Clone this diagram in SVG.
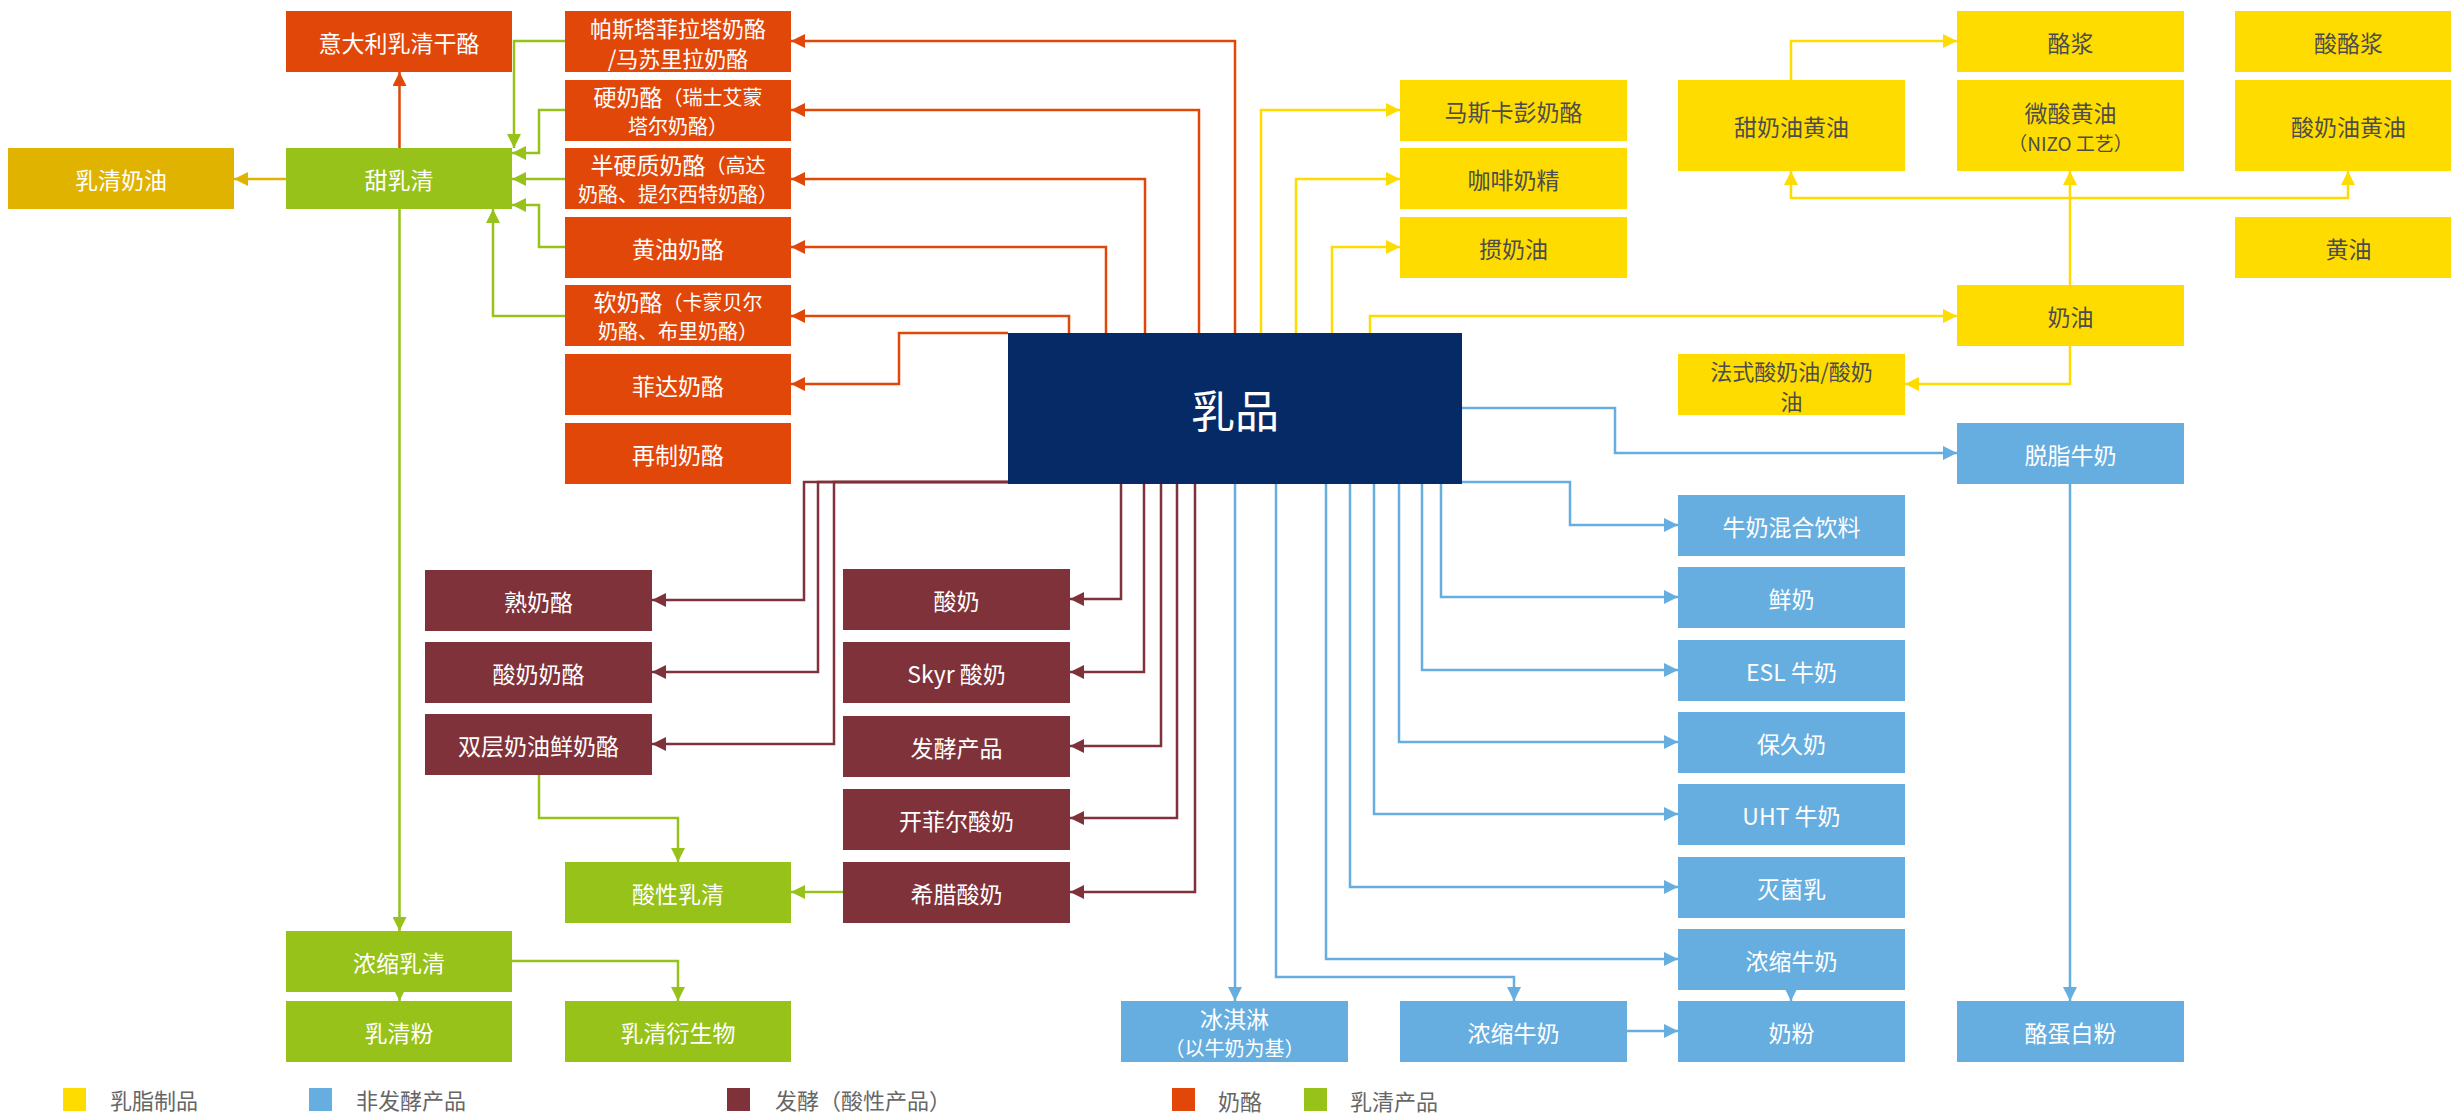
<svg xmlns="http://www.w3.org/2000/svg" width="2451" height="1115" viewBox="0 0 2451 1115">
<style>
text{font-family:"Noto Sans CJK SC","Liberation Sans",sans-serif;font-size:23px;text-anchor:middle;dominant-baseline:central}
.w{fill:#ffffff}
.d{fill:#4d4d4d}
.s{font-size:20px}
.m{font-size:22px}
.xs{font-size:19px}
.red{fill:#E2470A}.grn{fill:#97C21A}.mar{fill:#7F323A}.yel{fill:#FFDC00}.blu{fill:#67AEE0}.gld{fill:#E0B300}.nav{fill:#062A66}
.c{fill:none;stroke-width:2.5}
.cr{stroke:#E2470A}.cg{stroke:#97C21A}.cm{stroke:#7F323A}.cy{stroke:#FFDC00}.cb{stroke:#67AEE0}.co{stroke:#E0B300}
.lg{font-size:22px;fill:#666666;text-anchor:start}
</style>
<defs>
<marker id="ar" viewBox="0 0 14 14" refX="14" refY="7" markerWidth="14" markerHeight="14" markerUnits="userSpaceOnUse" orient="auto"><path d="M0,0 L14,7 L0,14 z" fill="#E2470A"/></marker>
<marker id="ag" viewBox="0 0 14 14" refX="14" refY="7" markerWidth="14" markerHeight="14" markerUnits="userSpaceOnUse" orient="auto"><path d="M0,0 L14,7 L0,14 z" fill="#97C21A"/></marker>
<marker id="am" viewBox="0 0 14 14" refX="14" refY="7" markerWidth="14" markerHeight="14" markerUnits="userSpaceOnUse" orient="auto"><path d="M0,0 L14,7 L0,14 z" fill="#7F323A"/></marker>
<marker id="ay" viewBox="0 0 14 14" refX="14" refY="7" markerWidth="14" markerHeight="14" markerUnits="userSpaceOnUse" orient="auto"><path d="M0,0 L14,7 L0,14 z" fill="#FFDC00"/></marker>
<marker id="ab" viewBox="0 0 14 14" refX="14" refY="7" markerWidth="14" markerHeight="14" markerUnits="userSpaceOnUse" orient="auto"><path d="M0,0 L14,7 L0,14 z" fill="#67AEE0"/></marker>
<marker id="ao" viewBox="0 0 14 14" refX="14" refY="7" markerWidth="14" markerHeight="14" markerUnits="userSpaceOnUse" orient="auto"><path d="M0,0 L14,7 L0,14 z" fill="#E0B300"/></marker>
</defs>
<rect width="2451" height="1115" fill="#ffffff"/>

<g id="connectors">
<!-- red -->
<path class="c cr" d="M399.5 148 V72" marker-end="url(#ar)"/>
<path class="c cr" d="M1235 333 V41 H791" marker-end="url(#ar)"/>
<path class="c cr" d="M1199 333 V110 H791" marker-end="url(#ar)"/>
<path class="c cr" d="M1145 333 V179 H791" marker-end="url(#ar)"/>
<path class="c cr" d="M1106 333 V247 H791" marker-end="url(#ar)"/>
<path class="c cr" d="M1069 333 V316 H791" marker-end="url(#ar)"/>
<path class="c cr" d="M1008 333 H899 V384 H791" marker-end="url(#ar)"/>
<!-- green -->
<path class="c cg" d="M565 41 H514 V148" marker-end="url(#ag)"/>
<path class="c cg" d="M565 110 H539 V153 H512" marker-end="url(#ag)"/>
<path class="c cg" d="M565 179 H512" marker-end="url(#ag)"/>
<path class="c cg" d="M565 247 H539 V205 H512" marker-end="url(#ag)"/>
<path class="c cg" d="M565 316 H493 V209" marker-end="url(#ag)"/>
<path class="c cg" d="M399.5 209 V931" marker-end="url(#ag)"/>
<path class="c cg" d="M539 775 V818 H678 V862" marker-end="url(#ag)"/>
<path class="c cg" d="M843 892 H791" marker-end="url(#ag)"/>
<path class="c cg" d="M399.5 988 V1001" marker-end="url(#ag)"/>
<path class="c cg" d="M512 961 H678 V1001" marker-end="url(#ag)"/>
<!-- gold -->
<path class="c co" d="M286 179 H234" marker-end="url(#ao)"/>
<!-- maroon -->
<path class="c cm" d="M1042 482 H804 V600 H652" marker-end="url(#am)"/>
<path class="c cm" d="M1042 482 H818 V672 H652" marker-end="url(#am)"/>
<path class="c cm" d="M1042 482 H834 V744 H652" marker-end="url(#am)"/>
<path class="c cm" d="M1121 484 V599 H1070" marker-end="url(#am)"/>
<path class="c cm" d="M1144 484 V672 H1070" marker-end="url(#am)"/>
<path class="c cm" d="M1161 484 V746 H1070" marker-end="url(#am)"/>
<path class="c cm" d="M1177 484 V818 H1070" marker-end="url(#am)"/>
<path class="c cm" d="M1195 484 V892 H1070" marker-end="url(#am)"/>
<!-- yellow -->
<path class="c cy" d="M1261 333 V110 H1400" marker-end="url(#ay)"/>
<path class="c cy" d="M1296 333 V179 H1400" marker-end="url(#ay)"/>
<path class="c cy" d="M1332 333 V247 H1400" marker-end="url(#ay)"/>
<path class="c cy" d="M1370 333 V316 H1957" marker-end="url(#ay)"/>
<path class="c cy" d="M1791 80 V41 H1957" marker-end="url(#ay)"/>
<path class="c cy" d="M2070 285 V198 H1791 V171" marker-end="url(#ay)"/>
<path class="c cy" d="M2070 198 H2348 V171" marker-end="url(#ay)"/>
<path class="c cy" d="M2070 198 V171" marker-end="url(#ay)"/>
<path class="c cy" d="M2070 346 V384 H1905" marker-end="url(#ay)"/>
<!-- blue -->
<path class="c cb" d="M1462 408 H1615 V453 H1957" marker-end="url(#ab)"/>
<path class="c cb" d="M1462 482 H1570 V525 H1678" marker-end="url(#ab)"/>
<path class="c cb" d="M1441 484 V597 H1678" marker-end="url(#ab)"/>
<path class="c cb" d="M1422 484 V670 H1678" marker-end="url(#ab)"/>
<path class="c cb" d="M1399 484 V742 H1678" marker-end="url(#ab)"/>
<path class="c cb" d="M1374 484 V814 H1678" marker-end="url(#ab)"/>
<path class="c cb" d="M1350 484 V887 H1678" marker-end="url(#ab)"/>
<path class="c cb" d="M1326 484 V959 H1678" marker-end="url(#ab)"/>
<path class="c cb" d="M1276 484 V977 H1514 V1001" marker-end="url(#ab)"/>
<path class="c cb" d="M1235 484 V1001" marker-end="url(#ab)"/>
<path class="c cb" d="M1627 1031 H1678" marker-end="url(#ab)"/>
<path class="c cb" d="M1791 988 V1001" marker-end="url(#ab)"/>
<path class="c cb" d="M2070 484 V1001" marker-end="url(#ab)"/>
</g>

<!-- center -->
<g id="n-dairy"><rect class="nav" x="1008" y="333" width="454" height="151"/><text class="w" x="1235" y="409" style="font-size:44px">乳品</text></g>

<!-- cheese -->
<g id="n-ricotta"><rect class="red" x="286" y="11" width="226" height="61"/><text class="w" x="399" y="41.5">意大利乳清干酪</text></g>
<g id="n-pasta"><rect class="red" x="565" y="11" width="226" height="61"/><text class="w m" x="678" y="26.5">帕斯塔菲拉塔奶酪</text><text class="w m" x="678" y="56.5">/马苏里拉奶酪</text></g>
<g id="n-hard"><rect class="red" x="565" y="80" width="226" height="61"/><text class="w" x="678" y="96">硬奶酪<tspan class="s">（瑞士艾蒙</tspan></text><text class="w s" x="678" y="125">塔尔奶酪）</text></g>
<g id="n-semihard"><rect class="red" x="565" y="148" width="226" height="61"/><text class="w" x="678" y="164">半硬质奶酪<tspan class="s">（高达</tspan></text><text class="w s" x="678" y="193">奶酪、提尔西特奶酪）</text></g>
<g id="n-butterkase"><rect class="red" x="565" y="217" width="226" height="61"/><text class="w" x="678" y="247.5">黄油奶酪</text></g>
<g id="n-soft"><rect class="red" x="565" y="285" width="226" height="61"/><text class="w" x="678" y="301">软奶酪<tspan class="s">（卡蒙贝尔</tspan></text><text class="w s" x="678" y="330">奶酪、布里奶酪）</text></g>
<g id="n-feta"><rect class="red" x="565" y="354" width="226" height="61"/><text class="w" x="678" y="384.5">菲达奶酪</text></g>
<g id="n-processed"><rect class="red" x="565" y="423" width="226" height="61"/><text class="w" x="678" y="453.5">再制奶酪</text></g>

<!-- whey -->
<g id="n-whey-cream"><rect class="gld" x="8" y="148" width="226" height="61"/><text class="w" x="121" y="178.5">乳清奶油</text></g>
<g id="n-sweet-whey"><rect class="grn" x="286" y="148" width="226" height="61"/><text class="w" x="399" y="178.5">甜乳清</text></g>
<g id="n-acid-whey"><rect class="grn" x="565" y="862" width="226" height="61"/><text class="w" x="678" y="892.5">酸性乳清</text></g>
<g id="n-whey-conc"><rect class="grn" x="286" y="931" width="226" height="61"/><text class="w" x="399" y="961.5">浓缩乳清</text></g>
<g id="n-whey-powder"><rect class="grn" x="286" y="1001" width="226" height="61"/><text class="w" x="399" y="1031.5">乳清粉</text></g>
<g id="n-whey-deriv"><rect class="grn" x="565" y="1001" width="226" height="61"/><text class="w" x="678" y="1031.5">乳清衍生物</text></g>

<!-- fermented -->
<g id="n-ripened"><rect class="mar" x="425" y="570" width="227" height="61"/><text class="w" x="538.5" y="600.5">熟奶酪</text></g>
<g id="n-quark"><rect class="mar" x="425" y="642" width="227" height="61"/><text class="w" x="538.5" y="672.5">酸奶奶酪</text></g>
<g id="n-double"><rect class="mar" x="425" y="714" width="227" height="61"/><text class="w" x="538.5" y="744.5">双层奶油鲜奶酪</text></g>
<g id="n-yogurt"><rect class="mar" x="843" y="569" width="227" height="61"/><text class="w" x="956.5" y="599.5">酸奶</text></g>
<g id="n-skyr"><rect class="mar" x="843" y="642" width="227" height="61"/><text class="w" x="956.5" y="672.5">Skyr 酸奶</text></g>
<g id="n-ferm"><rect class="mar" x="843" y="716" width="227" height="61"/><text class="w" x="956.5" y="746.5">发酵产品</text></g>
<g id="n-kefir"><rect class="mar" x="843" y="789" width="227" height="61"/><text class="w" x="956.5" y="819.5">开菲尔酸奶</text></g>
<g id="n-greek"><rect class="mar" x="843" y="862" width="227" height="61"/><text class="w" x="956.5" y="892.5">希腊酸奶</text></g>

<!-- fat products -->
<g id="n-mascarpone"><rect class="yel" x="1400" y="80" width="227" height="61"/><text class="d" x="1513.5" y="110.5">马斯卡彭奶酪</text></g>
<g id="n-creamer"><rect class="yel" x="1400" y="148" width="227" height="61"/><text class="d" x="1513.5" y="178.5">咖啡奶精</text></g>
<g id="n-whipped"><rect class="yel" x="1400" y="217" width="227" height="61"/><text class="d" x="1513.5" y="247.5">掼奶油</text></g>
<g id="n-sweet-butter"><rect class="yel" x="1678" y="80" width="227" height="91"/><text class="d" x="1791.5" y="125.5">甜奶油黄油</text></g>
<g id="n-mild-butter"><rect class="yel" x="1957" y="80" width="227" height="91"/><text class="d" x="2070.5" y="112">微酸黄油</text><text class="d xs" x="2070.5" y="142">（NIZO 工艺）</text></g>
<g id="n-sour-butter"><rect class="yel" x="2235" y="80" width="227" height="91"/><text class="d" x="2348.5" y="125.5">酸奶油黄油</text></g>
<g id="n-buttermilk"><rect class="yel" x="1957" y="11" width="227" height="61"/><text class="d" x="2070.5" y="41.5">酪浆</text></g>
<g id="n-sour-buttermilk"><rect class="yel" x="2235" y="11" width="227" height="61"/><text class="d" x="2348.5" y="41.5">酸酪浆</text></g>
<g id="n-butteroil"><rect class="yel" x="2235" y="217" width="227" height="61"/><text class="d" x="2348.5" y="247.5">黄油</text></g>
<g id="n-cream"><rect class="yel" x="1957" y="285" width="227" height="61"/><text class="d" x="2070.5" y="315.5">奶油</text></g>
<g id="n-creme"><rect class="yel" x="1678" y="354" width="227" height="61"/><text class="d m" x="1791.5" y="369.5">法式酸奶油/酸奶</text><text class="d m" x="1791.5" y="399.5">油</text></g>

<!-- non-fermented -->
<g id="n-skim"><rect class="blu" x="1957" y="423" width="227" height="61"/><text class="w" x="2070.5" y="453.5">脱脂牛奶</text></g>
<g id="n-mixed"><rect class="blu" x="1678" y="495" width="227" height="61"/><text class="w" x="1791.5" y="525.5">牛奶混合饮料</text></g>
<g id="n-fresh"><rect class="blu" x="1678" y="567" width="227" height="61"/><text class="w" x="1791.5" y="597.5">鲜奶</text></g>
<g id="n-esl"><rect class="blu" x="1678" y="640" width="227" height="61"/><text class="w" x="1791.5" y="670.5">ESL 牛奶</text></g>
<g id="n-longlife"><rect class="blu" x="1678" y="712" width="227" height="61"/><text class="w" x="1791.5" y="742.5">保久奶</text></g>
<g id="n-uht"><rect class="blu" x="1678" y="784" width="227" height="61"/><text class="w" x="1791.5" y="814.5">UHT 牛奶</text></g>
<g id="n-steril"><rect class="blu" x="1678" y="857" width="227" height="61"/><text class="w" x="1791.5" y="887.5">灭菌乳</text></g>
<g id="n-evap-r"><rect class="blu" x="1678" y="929" width="227" height="61"/><text class="w" x="1791.5" y="959.5">浓缩牛奶</text></g>
<g id="n-milkpowder"><rect class="blu" x="1678" y="1001" width="227" height="61"/><text class="w" x="1791.5" y="1031.5">奶粉</text></g>
<g id="n-casein"><rect class="blu" x="1957" y="1001" width="227" height="61"/><text class="w" x="2070.5" y="1031.5">酪蛋白粉</text></g>
<g id="n-icecream"><rect class="blu" x="1121" y="1001" width="227" height="61"/><text class="w" x="1234.5" y="1018">冰淇淋</text><text class="w s" x="1234.5" y="1047">（以牛奶为基）</text></g>
<g id="n-evap-b"><rect class="blu" x="1400" y="1001" width="227" height="61"/><text class="w" x="1513.5" y="1031.5">浓缩牛奶</text></g>

<!-- legend -->
<g id="legend">
<rect class="yel" x="63" y="1088" width="23" height="23"/><text class="lg" x="110" y="1099">乳脂制品</text>
<rect class="blu" x="309" y="1088" width="23" height="23"/><text class="lg" x="356" y="1099">非发酵产品</text>
<rect class="mar" x="727" y="1088" width="23" height="23"/><text class="lg" x="775" y="1099">发酵（酸性产品）</text>
<rect class="red" x="1172" y="1088" width="23" height="23"/><text class="lg" x="1218" y="1100">奶酪</text>
<rect class="grn" x="1304" y="1088" width="23" height="23"/><text class="lg" x="1350" y="1100">乳清产品</text>
</g>
</svg>
